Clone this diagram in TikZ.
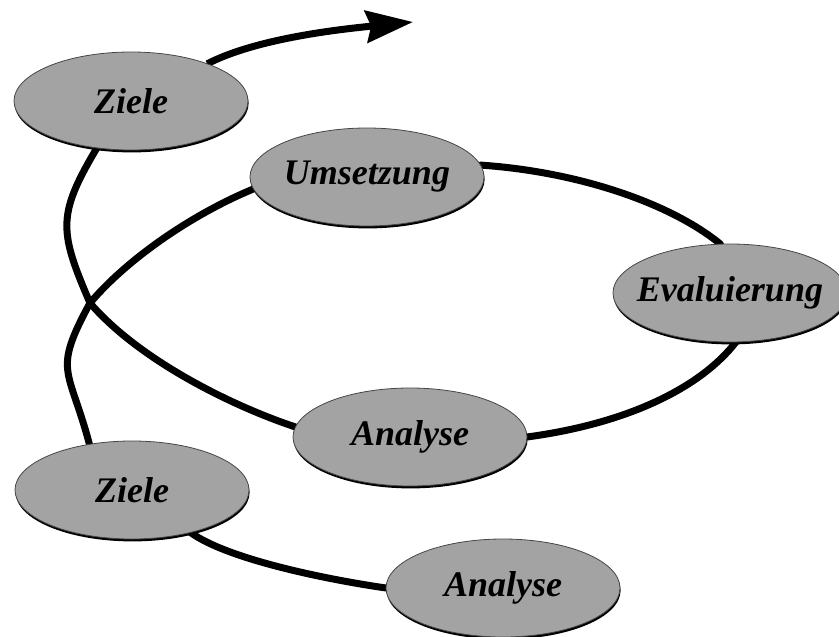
\documentclass[tikz,border=0pt]{standalone}
\usepackage{fontspec}
\setmainfont{Liberation Serif}
\usetikzlibrary{arrows.meta,backgrounds,shadows,shapes.geometric}
\definecolor{ovalfill}{RGB}{163,163,163}
\definecolor{ovaledge}{RGB}{70,70,70}
\tikzset{
  oval/.style={ellipse, minimum width=234pt, minimum height=98pt, inner sep=0pt, outer sep=0pt,
    fill=ovalfill, draw=ovaledge, line width=0.8pt,
    drop shadow={shadow xshift=0.6pt, shadow yshift=-2.4pt, fill=black, opacity=1}},
  lbl/.style={font=\fontsize{36}{36}\selectfont\bfseries\itshape, text=black, inner sep=0pt},
  link/.style={line width=7pt, line cap=round, draw=black},
}
\begin{document}
\begin{tikzpicture}[x=1pt, y=-1pt]
\useasboundingbox (0,0) rectangle (839,637);
% nodes
\node[oval, label={[lbl]center:Ziele}] (Z1) at (131,101) {};
\node[oval, label={[lbl]center:Umsetzung}] (U) at (367,177) {};
\node[oval, label={[lbl]center:Evaluierung}] (E) at (730,293) {};
\node[oval, label={[lbl]center:Analyse}] (A1) at (410,437) {};
\node[oval, label={[lbl]center:Ziele}] (Z2) at (132,490) {};
\node[oval, label={[lbl]center:Analyse}] (A2) at (503,588) {};
\coordinate (X) at (90,303);
\coordinate (tip) at (413,22);
\begin{pgfonlayer}{background}
% big loop
\draw[link] (U.6) .. controls (582,172) and (673,205) .. (E.101);
\draw[link] (E.-83) .. controls (702,386) and (631,423) .. (A1.0);
\draw[link] (U.186) .. controls (195,213) and (129,257) .. (X);
\draw[link] (X) .. controls (139,360) and (232,406) .. (A1.175);
% spiral on the left
\draw[link] (Z1.234) .. controls (57,215) and (59,231) .. (X);
\draw[link] (X) .. controls (52,373) and (69,367) .. (Z2.133);
% lower connector
\draw[link] (Z2.-36) .. controls (230,561) and (337,581) .. (A2.180);
% outgoing arrow
\draw[link, line cap=butt, -{Stealth[length=47pt 0, width=32pt 0, inset=5pt 0]}]
  (Z1.26) .. controls (257,38) and (343,29) .. (tip);
\end{pgfonlayer}
\end{tikzpicture}
\end{document}
